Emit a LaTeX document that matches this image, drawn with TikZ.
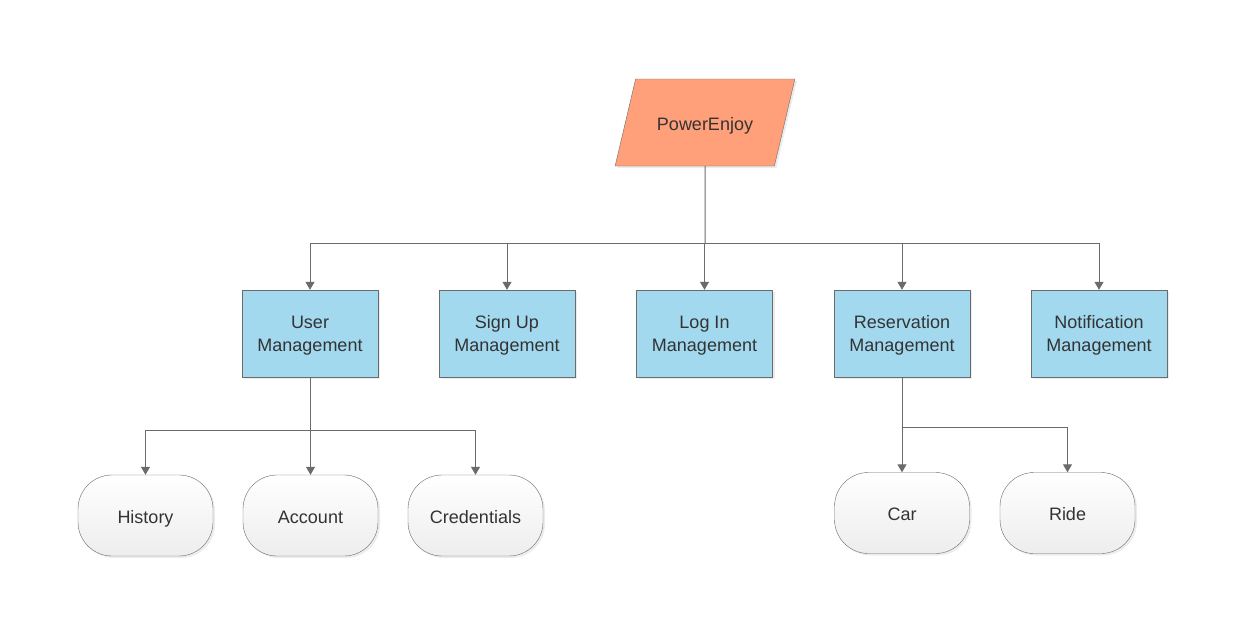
\documentclass[tikz,border=0pt]{standalone}
\usepackage{fontspec}
\setmainfont{Liberation Sans}
\usetikzlibrary{shapes.geometric,arrows.meta,shadows}
\definecolor{linegray}{HTML}{6B6B6B}
\definecolor{textgray}{HTML}{333333}
\definecolor{moduleblue}{HTML}{A3D9EF}
\definecolor{rootorange}{HTML}{FFA07A}

\begin{document}
\begin{tikzpicture}[x=1pt,y=-1pt,
		every node/.style={font=\fontsize{18}{23}\selectfont,text=textgray,align=center},
		root/.style={trapezium,trapezium left angle=63.7,trapezium right angle=116.3,
			trapezium stretches=true,minimum width=180pt,minimum height=87pt,
			text height=20pt,text depth=4pt,
			fill=rootorange,draw=linegray,drop shadow={shadow xshift=2pt,shadow yshift=-2pt,opacity=.15}},
		module/.style={rectangle,minimum width=136pt,minimum height=87pt,
			text height=40pt,text depth=4pt,
			fill=moduleblue,draw=linegray,drop shadow={shadow xshift=2pt,shadow yshift=-2pt,opacity=.15}},
		leaf/.style={rectangle,rounded corners=34pt,minimum width=135pt,minimum height=81pt,
			text height=19pt,text depth=4pt,
			top color=white,bottom color=black!7,draw=linegray,
			drop shadow={shadow xshift=2pt,shadow yshift=-2pt,opacity=.15}},
		link/.style={draw=linegray,line width=1pt},
		arr/.style={link,-{Triangle[width=9pt,length=8pt]}}]
			\useasboundingbox (0,0) rectangle (1247,635);
			% root
			\node[root] (power) at (705,122.5) {PowerEnjoy};
			% modules
			\node[module] (user) at (310,333.5) {User\\Management};
			\node[module] (signup) at (507,333.5) {Sign Up\\Management};
			\node[module] (login) at (704.5,333.5) {Log In\\Management};
			\node[module] (reserv) at (902,333.5) {Reservation\\Management};
			\node[module] (notif) at (1099,333.5) {Notification\\Management};
			% leaves
			\node[leaf] (history) at (145.5,515.5) {History};
			\node[leaf] (account) at (310.5,515.5) {Account};
			\node[leaf] (cred) at (475.5,515.5) {Credentials};
			\node[leaf] (car) at (902,513) {Car};
			\node[leaf] (ride) at (1067.5,513) {Ride};
			% connectors
			\coordinate (bus) at (705,243);
			\draw[link] (power.south) -- (bus);
			\foreach \m in {user,signup,login,reserv,notif}
			\draw[arr] (bus) -| (\m.north);
			\coordinate (ubus) at (310,430);
			\draw[link] (user.south) -- (ubus);
			\foreach \l in {history,account,cred}
			\draw[arr] (ubus) -| (\l.north);
			\coordinate (rbus) at (902,427);
			\draw[link] (reserv.south) -- (rbus);
			\foreach \l in {car,ride}
			\draw[arr] (rbus) -| (\l.north);
		\end{tikzpicture}
\end{document}
